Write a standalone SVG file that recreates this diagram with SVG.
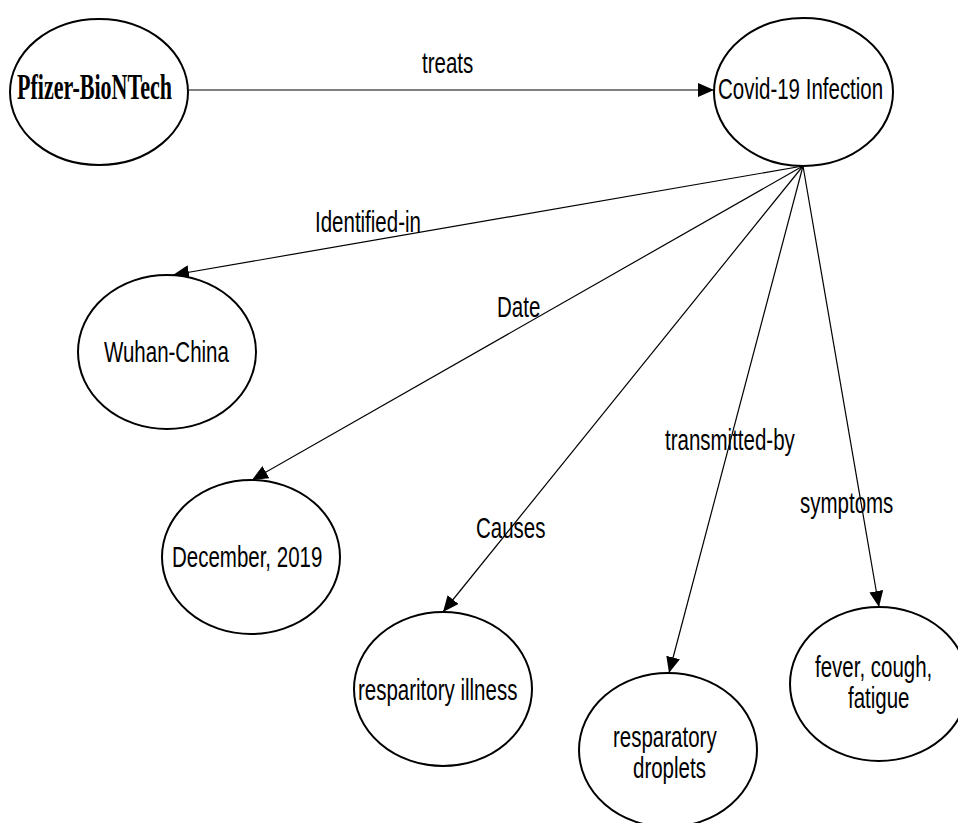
<svg xmlns="http://www.w3.org/2000/svg" width="958" height="823" viewBox="0 0 958 823">
<style>
.node ellipse{fill:#fff;stroke:#000;stroke-width:2}
.lbl{font-family:"Liberation Sans",Arial,sans-serif;font-size:25px;fill:#000}
.bold{font-family:"Liberation Serif","Times New Roman",serif;font-size:29px;font-weight:bold;fill:#000}
.edge{stroke:#000;stroke-width:1.2;fill:none;marker-end:url(#ah)}
</style>
<defs>
<marker id="ah" markerUnits="userSpaceOnUse" markerWidth="16" markerHeight="14" refX="16" refY="7" orient="auto">
<path d="M0,0 L16,7 L0,14 Z" fill="#000"/>
</marker>
</defs>
<rect width="958" height="823" fill="#fff"/>
<g id="connectors">
<line class="edge" x1="189" y1="90" x2="714" y2="90"/>
<line class="edge" x1="803" y1="166" x2="173" y2="275"/>
<line class="edge" x1="803" y1="166" x2="252" y2="480"/>
<line class="edge" x1="803" y1="166" x2="443" y2="612"/>
<line class="edge" x1="803" y1="166" x2="669" y2="673"/>
<line class="edge" x1="803" y1="166" x2="879" y2="607"/>
<text class="lbl" transform="translate(422,73) scale(0.82,1.15)">treats</text>
<text class="lbl" transform="translate(315,232) scale(0.82,1.15)">Identified-in</text>
<text class="lbl" transform="translate(497,317) scale(0.82,1.15)">Date</text>
<text class="lbl" transform="translate(665,450) scale(0.82,1.15)">transmitted-by</text>
<text class="lbl" transform="translate(800,513) scale(0.82,1.15)">symptoms</text>
<text class="lbl" transform="translate(476,538) scale(0.82,1.15)">Causes</text>
</g>
<g id="pfizer" class="node">
<ellipse cx="99" cy="92" rx="89" ry="73"/>
<text class="bold" transform="translate(17,99) scale(0.76,1.22)">Pfizer-BioNTech</text>
</g>
<g id="covid" class="node">
<ellipse cx="803.5" cy="92" rx="89.5" ry="74"/>
<text class="lbl" transform="translate(718,99) scale(0.82,1.18)">Covid-19 Infection</text>
</g>
<g id="wuhan" class="node">
<ellipse cx="167" cy="352" rx="89" ry="77"/>
<text class="lbl" transform="translate(104,362) scale(0.82,1.15)">Wuhan-China</text>
</g>
<g id="december" class="node">
<ellipse cx="251" cy="557" rx="89" ry="77"/>
<text class="lbl" transform="translate(172,567) scale(0.82,1.15)">December, 2019</text>
</g>
<g id="illness" class="node">
<ellipse cx="443" cy="689" rx="89" ry="77"/>
<text class="lbl" transform="translate(358,700) scale(0.82,1.15)">resparitory illness</text>
</g>
<g id="droplets" class="node">
<ellipse cx="668" cy="750" rx="89" ry="77"/>
<text class="lbl" transform="translate(613,747) scale(0.82,1.15)">resparatory</text>
<text class="lbl" transform="translate(633,778) scale(0.82,1.15)">droplets</text>
</g>
<g id="symptoms" class="node">
<ellipse cx="879" cy="684" rx="89" ry="77"/>
<text class="lbl" transform="translate(815,677) scale(0.82,1.15)">fever, cough,</text>
<text class="lbl" transform="translate(848,708) scale(0.82,1.15)">fatigue</text>
</g>
</svg>
